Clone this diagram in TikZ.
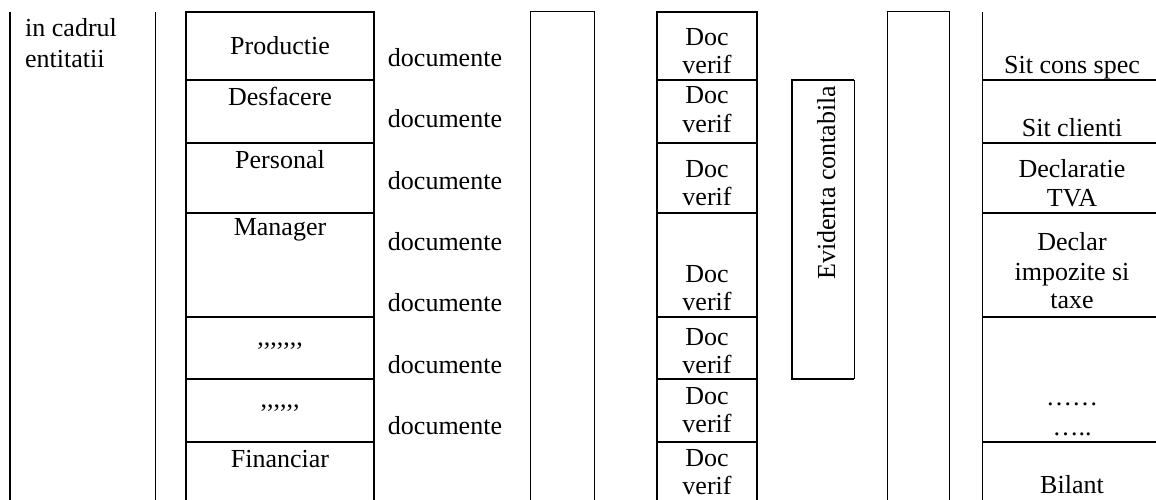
\documentclass[tikz,border=0pt]{standalone}
\usepackage{fontspec}
\setmainfont{Liberation Serif}

\begin{document}
\begin{tikzpicture}[x=1pt, y=-1pt,
    thinrule/.style={line width=1pt},
    thickrule/.style={line width=1.8pt},
    lbl/.style={anchor=base, inner sep=0pt, font=\fontsize{26}{29}\selectfont}]
    \useasboundingbox (0,0) rectangle (1156,500);

    % entity column
    \draw[thickrule] (10,12) -- (10,500);
    \draw[thinrule] (155,12) -- (155,500);
    \node[lbl, anchor=base west] (cadru) at (25,37) {in cadrul};
    \node[lbl, anchor=base west] (entit) at (25,68) {entitatii};

    % departments
    \draw[thickrule] (186,500) -- (186,12) -- (374,12) -- (374,500);
    \foreach \y in {80,143,213,317,379,442}
        \draw[thickrule] (186,\y) -- (374,\y);
    \node[lbl] (prod) at (280,55) {Productie};
    \node[lbl] (desf) at (280,106) {Desfacere};
    \node[lbl] (pers) at (280,168) {Personal};
    \node[lbl] (mang) at (280,235) {Manager};
    \node[lbl] (alt1) at (280,345) {,{},{},{},{},{},{},};
    \node[lbl] (alt2) at (280,407) {,{},{},{},{},{},};
    \node[lbl] (fin) at (280,467) {Financiar};

    % documents flow
    \foreach \y [count=\i] in {67,128,189,250,311,373,434}
        \node[lbl] (docs\i) at (445,\y) {documente};

    % empty column
    \draw[thinrule] (530,500) -- (530,12) -- (594,12) -- (594,500);

    % verified documents
    \draw[thickrule] (657,500) -- (657,12) -- (757,12) -- (757,500);
    \foreach \y in {80,143,213,317,379,442}
        \draw[thickrule] (657,\y) -- (757,\y);
    \foreach \y [count=\i] in {46,104,177,282,345,404,466} {
        \node[lbl] (dv\i) at (707,\y) {Doc};
        \node[lbl] (vf\i) at (707,\y+28) {verif};
    }

    % accounting
    \draw[thickrule] (854,379) -- (792,379) -- (792,80) -- (854,80);
    \draw[thinrule] (854,80) -- (854,379);
    \node[lbl, anchor=base west, rotate=90] (evid) at (835,280) {Evidenta contabila};

    % second empty column
    \draw[thinrule] (887,500) -- (887,12) -- (949,12) -- (949,500);

    % reports
    \draw[thinrule] (982,12) -- (982,500);
    \foreach \y in {80,143,213,317,442}
        \draw[thickrule] (982,\y) -- (1156,\y);
    \node[lbl] (sitcs) at (1072,74) {Sit cons spec};
    \node[lbl] (sitcl) at (1072,137) {Sit clienti};
    \node[lbl] (tva1) at (1072,177) {Declaratie};
    \node[lbl] (tva2) at (1072,206) {TVA};
    \node[lbl] (imp1) at (1072,250) {Declar};
    \node[lbl] (imp2) at (1072,280) {impozite si};
    \node[lbl] (imp3) at (1072,308) {taxe};
    \node[lbl] (pct1) at (1072,405) {……};
    \node[lbl] (pct2) at (1072,435) {…..};
    \node[lbl] (bil) at (1072,493) {Bilant};
\end{tikzpicture}
\end{document}
